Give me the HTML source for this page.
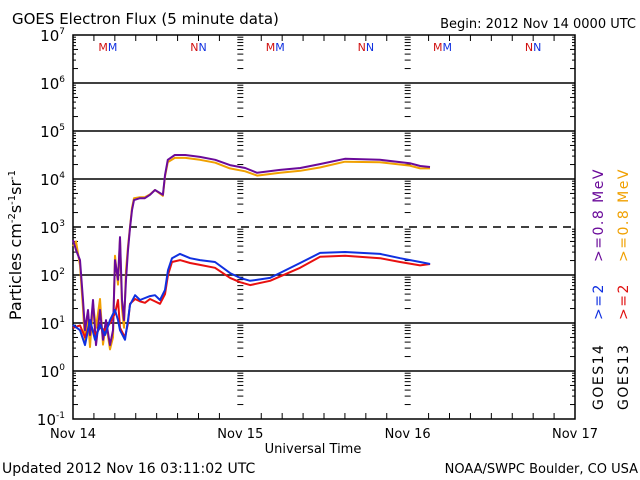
<!DOCTYPE html>
<html><head><meta charset="utf-8"><style>
body{margin:0;background:#fff}
svg{display:block;font-family:"DejaVu Sans","Liberation Sans",sans-serif}
</style></head><body>
<svg id="c" width="640" height="480" viewBox="0 0 640 480">
<rect width="640" height="480" fill="#fff"/>
<text x="12" y="24" font-size="15">GOES Electron Flux (5 minute data)</text>
<text x="636" y="28" font-size="13" text-anchor="end">Begin: 2012 Nov 14 0000 UTC</text>
<text x="2" y="473" font-size="14">Updated 2012 Nov 16 03:11:02 UTC</text>
<text x="638" y="473" font-size="13" text-anchor="end">NOAA/SWPC Boulder, CO USA</text>
<text x="313" y="453" font-size="13" text-anchor="middle">Universal Time</text>
<text transform="translate(21,245) rotate(-90)" font-size="16" text-anchor="middle">Particles cm<tspan dy="-6" font-size="10">-2</tspan><tspan dy="6">s</tspan><tspan dy="-6" font-size="10">-1</tspan><tspan dy="6">sr</tspan><tspan dy="-6" font-size="10">-1</tspan></text>
<g id="grid"></g><g id="axes"></g><g id="series"></g>
<g font-size="14" letter-spacing="1.5">
<text transform="translate(603,410) rotate(-90)">GOES14</text>
<text transform="translate(603,320) rotate(-90)" fill="#1030e0">&gt;=2</text>
<text transform="translate(603,262) rotate(-90)" fill="#6a0a9a">&gt;=0.8  MeV</text>
<text transform="translate(628,410) rotate(-90)">GOES13</text>
<text transform="translate(628,320) rotate(-90)" fill="#e01010">&gt;=2</text>
<text transform="translate(628,262) rotate(-90)" fill="#f0a000">&gt;=0.8  MeV</text>
</g>
</svg>
<script>
const dayLabels=["Nov 14","Nov 15","Nov 16","Nov 17"];
const yExpTicks=[7,6,5,4,3,2,1,0,-1];
const markLabels=[["M",5],["N",18],["M",29],["N",42],["M",53],["N",66]];
const hLow=[0,1,1.72,2.44,3.16,3.87,4.59,5.31,6.03,6.46,6.74,7.46,7.89,8.18,8.9,9.61,10.33,11.05,11.76,12.48,13.2,13.63,14.2,15.35,16.79,18.22,20.37,22.53,23.96,25.4,28.27,32.57,35.44,39.03,44.05,46.92,49.78,51.22];
const blue2=[0.96,0.85,0.54,1.06,0.65,0.96,0.75,1.06,1.27,1.06,0.85,0.65,1.06,1.38,1.58,1.48,1.52,1.56,1.58,1.48,1.69,2.1,2.35,2.44,2.35,2.31,2.27,2.04,1.94,1.88,1.94,2.25,2.46,2.48,2.44,2.35,2.27,2.23];
const red2=[0.9,0.95,0.7,1.0,0.75,0.9,0.85,1.0,1.2,1.48,0.9,0.7,1.0,1.4,1.5,1.45,1.42,1.5,1.45,1.4,1.6,2.0,2.27,2.31,2.25,2.21,2.15,1.94,1.85,1.79,1.88,2.15,2.38,2.4,2.35,2.27,2.2,2.23];
const hHigh=[0,0.43,1,1.43,1.72,2.15,2.44,2.87,3.3,3.87,4.3,4.73,5.3,5.74,6.03,6.46,6.74,7.03,7.32,7.6,7.89,8.18,8.46,8.75,9.6,10.3,11.05,11.76,12.9,13.2,13.6,14.6,16.1,18.2,20.4,22.5,24.7,26.4,29.7,32.6,35.4,39,44,48.3,49.8,51.2];
const purple08=[2.73,2.52,2.31,1.48,0.85,1.27,0.75,1.48,0.54,1.27,0.65,1.06,0.54,0.85,2.31,1.9,2.79,1.48,1.06,1.9,2.52,2.98,3.35,3.56,3.6,3.6,3.67,3.77,3.67,4.08,4.4,4.5,4.5,4.46,4.4,4.29,4.23,4.13,4.19,4.23,4.31,4.42,4.4,4.33,4.27,4.25];
const orange08=[2.6,2.7,2.2,1.3,0.6,1.1,0.5,1.4,0.9,1.5,0.55,1.0,0.45,0.7,2.4,1.8,2.75,1.3,0.9,2.1,2.6,3.0,3.4,3.6,3.62,3.62,3.68,3.77,3.65,4.05,4.35,4.44,4.44,4.4,4.34,4.22,4.16,4.07,4.13,4.17,4.24,4.36,4.35,4.28,4.22,4.22];

const L=73,R=575,T=35,B=419;
const xs=h=>L+(R-L)*h/72;
const ys=e=>T+(7-e)*(B-T)/8;
const NS="http://www.w3.org/2000/svg";
function mk(tag,attrs,parent){const e=document.createElementNS(NS,tag);for(const k in attrs)e.setAttribute(k,attrs[k]);parent.appendChild(e);return e;}
const grid=document.getElementById('grid'),axes=document.getElementById('axes'),ser=document.getElementById('series');

yExpTicks.forEach(e=>{
  const y=ys(e);
  if(e<7&&e>-1){
    const ln=mk('line',{x1:L,x2:R,y1:y,y2:y,stroke:'#000','stroke-width':1.5,'stroke-dasharray':e===3?'8,6':'none'},grid);
    
    
  }
  const t=mk('text',{x:L-8,y:y+6,'font-size':15,'text-anchor':'end'},axes);
  
  
  t.innerHTML='10<tspan dy="-7" font-size="9">'+e+'</tspan>';
  if(e>-1){for(let k=2;k<=9;k++){const yy=y+(B-T)/8*(1-Math.log10(k));
    [L,xs(24),xs(48),R].forEach((x,i)=>{
      const len=k===5||k===2?5:3;
      if(i===0) mk('line',{x1:x,x2:x+len,y1:yy,y2:yy,stroke:'#000'},axes);
      else if(i===3) mk('line',{x1:x,x2:x-len,y1:yy,y2:yy,stroke:'#000'},axes);
      else mk('line',{x1:x-3,x2:x+3,y1:yy,y2:yy,stroke:'#000'},axes);
    });}}
});
const fr=mk('rect',{x:L,y:T,width:R-L,height:B-T,fill:'none',stroke:'#000','stroke-width':1.5},axes);


for(let h=3;h<72;h+=3){const x=xs(h);const len=h%24===0?0:6;
  mk('line',{x1:x,x2:x,y1:B,y2:B-len,stroke:'#000'},axes);
  mk('line',{x1:x,x2:x,y1:T,y2:T+len,stroke:'#000'},axes);}
dayLabels.forEach((d,i)=>{const t=mk('text',{x:xs(i*24),y:438,'font-size':13,'text-anchor':'middle'},axes);
  
  
  t.textContent=d;});
markLabels.forEach(m=>{const t=mk('text',{x:xs(m[1]),y:51,'font-size':11,'text-anchor':'middle'},axes);
  
  
  t.innerHTML='<tspan fill="#d01010">'+m[0]+'</tspan><tspan fill="#1030e0">'+m[0]+'</tspan>';});
function line(hs,vs,col,name){
  const p=mk('polyline',{points:hs.map((h,i)=>xs(h).toFixed(1)+','+ys(vs[i]).toFixed(1)).join(' '),fill:'none',stroke:col,'stroke-width':2,'stroke-linejoin':'round'},ser);
  
  
}
line(hHigh,orange08,'#f0a000','goes13-08mev-line');
line(hHigh,purple08,'#6a0a9a','goes14-08mev-line');
line(hLow,red2,'#e81010','goes13-2mev-line');
line(hLow,blue2,'#1030e0','goes14-2mev-line');
</script>
</body></html>
